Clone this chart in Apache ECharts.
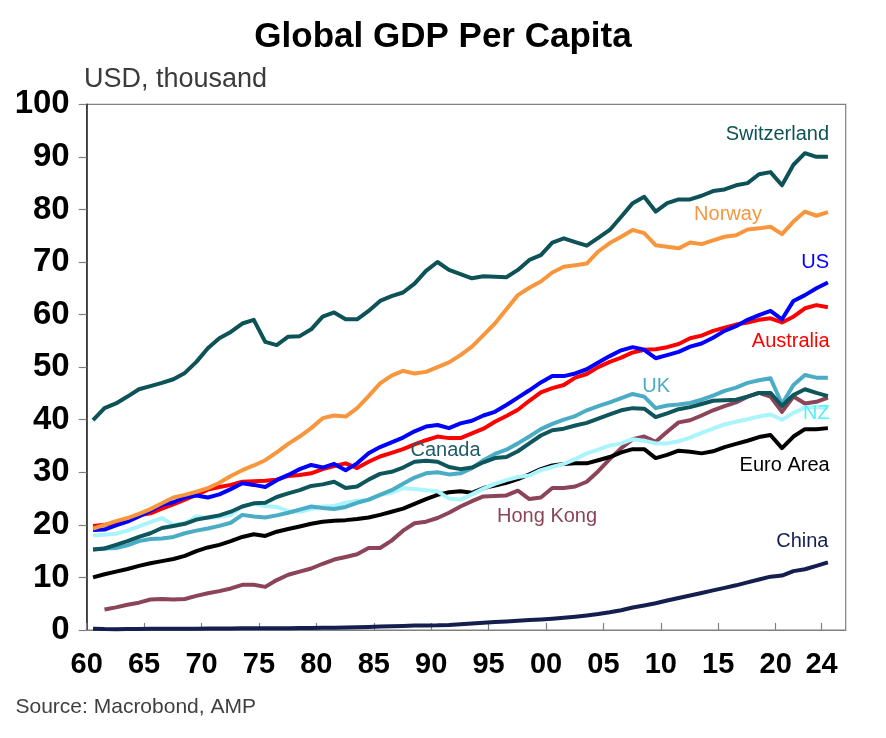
<!DOCTYPE html>
<html><head><meta charset="utf-8">
<script src="https://cdn.jsdelivr.net/npm/echarts@6/dist/echarts.min.js"></script>
<style>html,body{margin:0;padding:0;background:#fff}#c{width:886px;height:738px}</style>
</head><body><div id="c"></div>
<script>
const years = [1960,1961,1962,1963,1964,1965,1966,1967,1968,1969,
1970,1971,1972,1973,1974,1975,1976,1977,1978,1979,
1980,1981,1982,1983,1984,1985,1986,1987,1988,1989,
1990,1991,1992,1993,1994,1995,1996,1997,1998,1999,
2000,2001,2002,2003,2004,2005,2006,2007,2008,2009,
2010,2011,2012,2013,2014,2015,2016,2017,2018,2019,
2020,2021,2022,2023,2024];

const switzerland = [39.9,42.2,43.1,44.4,45.8,46.4,47.0,47.7,48.9,51.0,
53.6,55.5,56.7,58.3,59.0,54.8,54.2,55.8,55.9,57.2,
59.6,60.4,59.1,59.1,60.7,62.6,63.5,64.2,65.9,68.3,
70.0,68.5,67.7,66.9,67.3,67.2,67.1,68.5,70.4,71.3,
73.7,74.5,73.8,73.1,74.6,76.1,78.6,81.2,82.4,79.6,
81.2,81.9,81.9,82.6,83.5,83.8,84.6,85.0,86.7,87.1,
84.6,88.5,90.7,90.0,90.0];

const norway = [19.3,20.0,20.7,21.3,22.1,23.0,24.1,25.2,25.7,26.3,
27.0,28.0,29.3,30.4,31.3,32.3,33.8,35.4,36.8,38.4,
40.3,40.8,40.6,42.2,44.5,46.9,48.4,49.3,48.8,49.1,
50.0,50.9,52.3,53.9,56.1,58.3,61.0,63.7,65.1,66.3,
68.0,69.1,69.4,69.7,72.0,73.6,74.8,76.1,75.5,73.2,
72.9,72.6,73.7,73.4,74.1,74.8,75.1,76.2,76.4,76.7,
75.3,77.7,79.6,78.8,79.5];

const us = [19.0,19.1,19.9,20.6,21.6,22.7,23.8,24.3,25.2,25.6,
25.2,25.8,26.8,27.9,27.6,27.2,28.5,29.5,30.6,31.4,
30.9,31.6,30.4,31.7,33.6,34.8,35.7,36.6,37.8,38.7,
39.0,38.4,39.3,39.8,40.8,41.5,42.8,44.2,45.6,47.1,
48.3,48.3,48.8,49.6,50.9,52.1,53.2,53.8,53.3,51.7,
52.3,52.9,53.9,54.5,55.6,56.9,57.8,59.0,59.9,60.7,
59.1,62.6,63.7,65.0,66.1];

const australia = [19.8,20.0,20.4,21.0,21.8,22.2,23.1,23.9,24.8,25.7,
26.7,27.2,27.6,28.2,28.3,28.4,28.6,29.3,29.5,29.8,
30.6,31.2,31.7,30.8,32.0,33.0,33.7,34.4,35.3,36.1,
36.8,36.5,36.5,37.4,38.3,39.6,40.7,41.9,43.6,45.2,
46.0,46.6,48.0,48.7,50.0,51.0,51.8,52.8,53.3,53.4,
53.8,54.4,55.5,56.0,56.9,57.5,58.1,58.5,59.0,59.3,
58.5,59.6,61.2,61.8,61.4];

const canada = [15.3,15.5,16.2,16.9,17.7,18.4,19.4,19.8,20.2,21.0,
21.4,21.8,22.5,23.5,24.1,24.2,25.3,26.0,26.6,27.4,
27.7,28.2,27.0,27.3,28.6,29.7,30.1,30.9,32.0,32.2,
32.0,31.0,30.6,30.9,31.9,32.7,32.9,34.0,35.5,37.0,
38.0,38.3,38.9,39.4,40.2,41.0,41.8,42.2,42.1,40.5,
41.2,42.0,42.4,43.0,43.6,43.7,43.8,44.4,45.1,45.1,
42.6,44.7,45.8,45.1,44.5];

const uk = [15.3,15.5,15.6,16.1,16.9,17.3,17.4,17.7,18.4,18.9,
19.3,19.8,20.4,21.9,21.6,21.4,21.8,22.3,22.9,23.5,
23.2,23.0,23.4,24.2,24.8,25.7,26.6,27.8,29.0,29.8,
30.0,29.6,29.8,30.8,32.3,33.5,34.3,35.5,36.8,38.2,
39.2,40.0,40.7,41.8,42.6,43.3,44.1,44.9,44.4,42.2,
42.7,42.9,43.2,43.8,44.6,45.5,46.1,47.0,47.5,47.9,
43.0,46.6,48.5,48.0,48.0];

const nz = [18.0,18.1,18.3,18.9,19.7,20.5,21.3,20.0,20.3,21.6,
21.3,21.5,21.9,23.5,24.0,23.6,23.4,22.6,22.5,23.0,
23.5,23.6,24.2,24.6,24.7,25.7,26.1,27.0,26.8,26.6,
26.4,25.0,24.8,25.8,26.9,27.8,28.5,29.1,29.4,30.4,
31.0,31.6,32.5,33.6,34.3,35.1,35.5,36.3,36.0,35.5,
35.5,35.9,36.6,37.5,38.3,39.1,39.6,40.1,40.6,41.0,
40.0,41.3,42.3,42.4,42.2];

const euroArea = [10.0,10.6,11.1,11.6,12.2,12.7,13.1,13.5,14.1,15.0,
15.7,16.2,16.9,17.7,18.2,17.9,18.7,19.2,19.7,20.2,
20.6,20.8,20.9,21.1,21.4,21.9,22.5,23.1,24.0,24.9,
25.7,26.2,26.4,26.1,27.0,27.5,28.0,28.7,29.6,30.6,
31.3,31.6,31.7,31.7,32.3,32.9,33.8,34.4,34.4,32.7,
33.3,34.1,33.9,33.6,34.0,34.8,35.4,36.0,36.7,37.1,
34.6,36.8,38.2,38.2,38.4];

const hongKong = [null,3.9,4.3,4.8,5.2,5.8,5.9,5.8,5.9,6.5,
7.0,7.4,7.9,8.6,8.6,8.2,9.5,10.5,11.1,11.7,
12.6,13.4,13.9,14.4,15.6,15.6,17.0,18.9,20.3,20.6,
21.3,22.3,23.5,24.5,25.4,25.5,25.6,26.5,24.9,25.2,
27.0,27.0,27.3,28.2,30.2,32.5,34.6,36.3,36.8,35.8,
37.7,39.5,39.9,40.8,41.8,42.6,43.3,44.4,45.1,44.4,
41.5,44.4,43.1,43.4,44.2];

const china = [0.23,0.17,0.16,0.18,0.20,0.23,0.25,0.23,0.22,0.25,
0.28,0.29,0.30,0.31,0.31,0.33,0.32,0.34,0.37,0.39,
0.42,0.43,0.47,0.51,0.58,0.65,0.70,0.77,0.84,0.86,
0.88,0.95,1.08,1.22,1.36,1.50,1.63,1.76,1.88,2.00,
2.15,2.32,2.52,2.76,3.03,3.36,3.76,4.27,4.66,5.08,
5.60,6.10,6.55,7.04,7.53,8.02,8.50,9.05,9.60,10.15,
10.35,11.20,11.55,12.20,12.85];

const xTickYears = [1960,1965,1970,1975,1980,1985,1990,1995,2000,2005,2010,2015,2020,2024];

const FONT = "'Liberation Sans', Arial, Helvetica, sans-serif";

// drawing order (bottom to top), colours and label anchors (in data coordinates)
const seriesDefs = [
  {name:'China', data:china, color:'#141F4F', label:{text:'China', color:'#141F4F', x:2024.6, y:16.9, align:'right'}},
  {name:'Hong Kong', data:hongKong, color:'#8C4458', label:{text:'Hong Kong', color:'#8C4458', x:2004.45, y:21.5, align:'right'}},
  {name:'Euro Area', data:euroArea, color:'#000000', label:{text:'Euro Area', color:'#000000', x:2024.7, y:31.2, align:'right'}},
  {name:'NZ', data:nz, color:'#ABF4FC', label:{text:'NZ', color:'#55F2F6', x:2024.7, y:41.1, align:'right'}},
  {name:'UK', data:uk, color:'#4BACC6', label:{text:'UK', color:'#4BACC6', x:2010.8, y:46.4, align:'right'}},
  {name:'Canada', data:canada, color:'#0F565C', label:{text:'Canada', color:'#1E5C6A', x:1988.2, y:34.2, align:'left'}},
  {name:'Australia', data:australia, color:'#FF0000', label:{text:'Australia', color:'#FF0000', x:2024.7, y:54.8, align:'right'}},
  {name:'US', data:us, color:'#0000FF', label:{text:'US', color:'#0000FF', x:2024.65, y:70.0, align:'right'}},
  {name:'Norway', data:norway, color:'#F7963C', label:{text:'Norway', color:'#F7963C', x:2018.8, y:79.1, align:'right'}},
  {name:'Switzerland', data:switzerland, color:'#0C5256', label:{text:'Switzerland', color:'#0C5256', x:2024.65, y:94.2, align:'right'}}
];

const chart = echarts.init(document.getElementById('c'), null, {renderer:'canvas'});

const option = {
  animation:false,
  backgroundColor:'#ffffff',
  textStyle:{fontFamily:FONT},
  grid:{left:86.7, right:40.3, top:104.3, bottom:108, show:true, borderColor:'#808080', borderWidth:1.2, containLabel:false},
  xAxis:{
    type:'value', min:1960, max:2026.1,
    axisLine:{show:true, onZero:false, lineStyle:{color:'#808080', width:1.2}},
    axisTick:{show:true, inside:true, length:7, customValues:xTickYears, lineStyle:{color:'#808080', width:1.2}},
    axisLabel:{customValues:xTickYears, formatter:function(v){return String(v%100).padStart(2,'0');},
      fontSize:29, fontWeight:'bold', color:'#000', margin:20, fontFamily:FONT},
    splitLine:{show:false}
  },
  yAxis:{
    type:'value', min:0, max:100, interval:10,
    axisLine:{show:true, lineStyle:{color:'#222222', width:1.5}},
    axisTick:{show:true, inside:false, length:8, lineStyle:{color:'#808080', width:1.2}},
    axisLabel:{fontSize:33, fontWeight:'bold', color:'#000', margin:17, fontFamily:FONT},
    splitLine:{show:false}
  },
  series: seriesDefs.map(function(s){
    return {
      name:s.name, type:'line', showSymbol:false, symbol:'none', smooth:false,
      connectNulls:false,
      lineStyle:{color:s.color, width:4, join:'round', cap:'butt'},
      itemStyle:{color:s.color},
      data: years.map(function(y,i){ return s.data[i]==null ? null : [y+0.55, s.data[i]]; }).filter(function(p){return p!==null;})
    };
  })
};
chart.setOption(option);

const graphics = [
  {type:'text', style:{text:'Global GDP Per Capita', x:443, y:37, font:"bold 35px "+FONT, fill:'#000', textAlign:'center', textVerticalAlign:'middle'}},
  {type:'text', style:{text:'USD, thousand', x:84, y:80, font:"27px "+FONT, fill:'#3b3b3b', textAlign:'left', textVerticalAlign:'middle'}},
  {type:'text', style:{text:'Source: Macrobond, AMP', x:15.5, y:707, font:"21px "+FONT, fill:'#404040', textAlign:'left', textVerticalAlign:'middle'}}
];
seriesDefs.forEach(function(s){
  const p = chart.convertToPixel({gridIndex:0}, [s.label.x, s.label.y]);
  graphics.push({type:'text', z:100, style:{text:s.label.text, x:p[0], y:p[1], font:"20px "+FONT, fill:s.label.color,
    textAlign:s.label.align, textVerticalAlign:'middle'}});
});
chart.setOption({graphic:graphics});
</script></body></html>
